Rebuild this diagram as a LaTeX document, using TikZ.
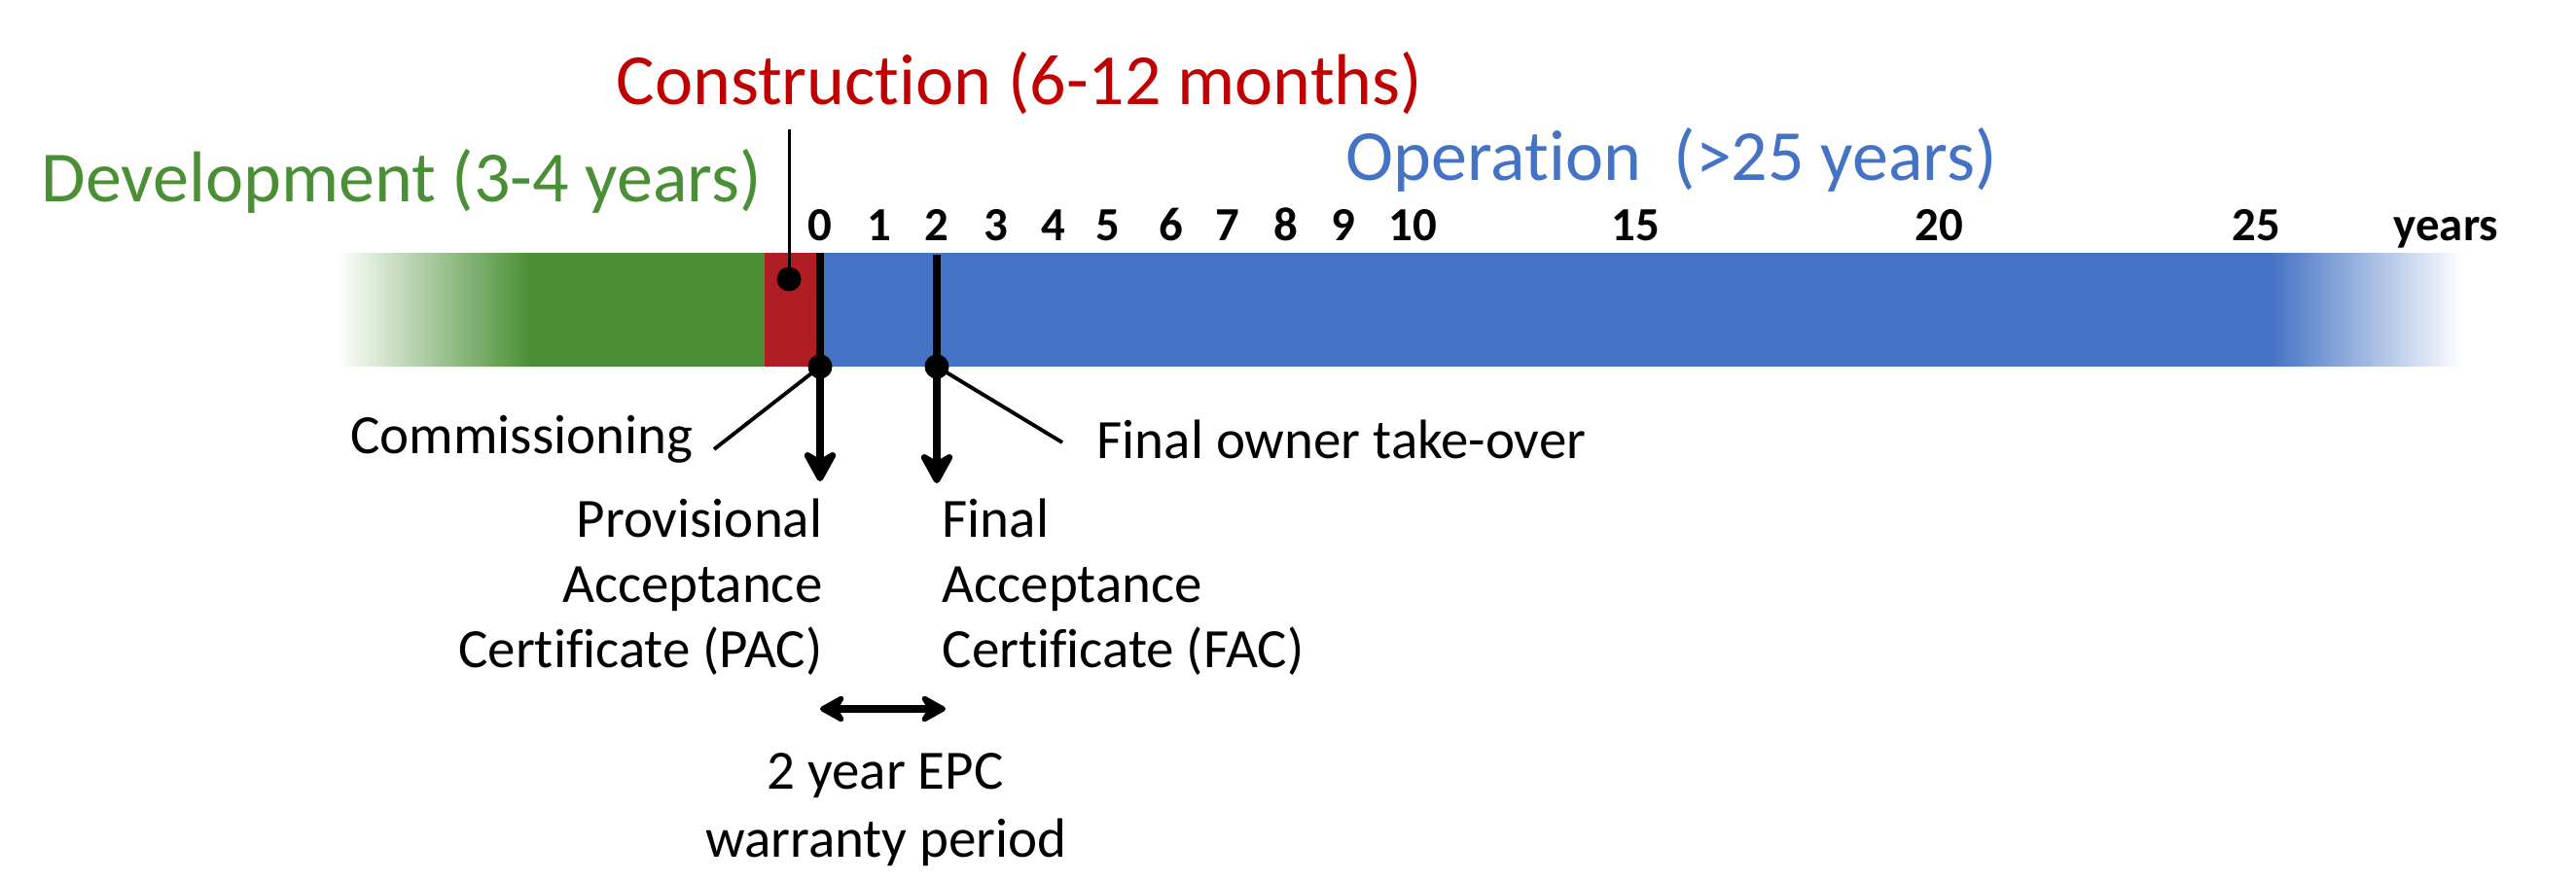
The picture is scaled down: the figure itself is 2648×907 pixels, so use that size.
\documentclass[tikz,border=0pt]{standalone}
\usepackage{fontspec}
\setmainfont[Ligatures=NoCommon]{Carlito}
\usetikzlibrary{arrows.meta}
\definecolor{devgreen}{HTML}{4A8F35}
\definecolor{conred}{HTML}{C00000}
\definecolor{barred}{HTML}{B01E23}
\definecolor{opblue}{HTML}{4472C4}
\tikzset{
  bigtxt/.style={inner sep=0pt, font=\fontsize{21.05pt}{25pt}\selectfont},
  smalltxt/.style={inner sep=0pt, font=\fontsize{16.2pt}{19pt}\selectfont},
  ticktxt/.style={inner sep=0pt, anchor=base, font=\fontsize{13.9pt}{16pt}\selectfont\bfseries},
  dot/.style={circle, fill=black, inner sep=0pt, minimum size=0.25cm},
  marker/.style={line width=2.3pt},
  leader/.style={line width=1.1pt},
  thinleader/.style={line width=0.85pt},
  downarrow/.style={line width=2.3pt, -{Stealth[length=11pt,width=12pt,inset=3.5pt,round]}},
  bothway/.style={line width=2pt, {Stealth[length=9pt,width=10pt,inset=3pt,round]}-{Stealth[length=9pt,width=10pt,inset=3pt,round]}},
}
\begin{document}
\begin{tikzpicture}[x=0.01cm, y=-0.01cm]
\useasboundingbox (0,0) rectangle (2648,907);
% bar with faded ends
\foreach \i in {0,...,49}{
  \pgfmathsetmacro\p{2*\i+1}
  \fill[devgreen!\p!white] ({346+4*\i},260) rectangle ({350.6+4*\i},377);
  \pgfmathsetmacro\q{99-2*\i}
  \fill[opblue!\q!white] ({2333+4*\i},260) rectangle ({2337.6+4*\i},377);
}
\fill[devgreen] (545,260) rectangle (786,377);
\fill[barred] (786,260) rectangle (843,377);
\fill[opblue] (843,260) rectangle (2334,377);
% titles
\node[bigtxt, anchor=base west, text=devgreen] (dev) at (42,208) {Development (3-4 years)};
\node[bigtxt, anchor=base west, text=conred] (con) at (633,108) {Construction (6-12 months)};
\node[bigtxt, anchor=base west, text=opblue] (op) at (1383,186) {Operation\ \ (>25 years)};
% ticks
\node[ticktxt] (t0) at (843,248) {0};
\node[ticktxt] (t1) at (904,248) {1};
\node[ticktxt] (t2) at (963,248) {2};
\node[ticktxt] (t3) at (1024,248) {3};
\node[ticktxt] (t4) at (1083,248) {4};
\node[ticktxt] (t5) at (1139,248) {5};
\node[ticktxt] (t6) at (1204,248) {6};
\node[ticktxt] (t7) at (1262,248) {7};
\node[ticktxt] (t8) at (1322,248) {8};
\node[ticktxt] (t9) at (1381,248) {9};
\node[ticktxt] (t10) at (1452,248) {10};
\node[ticktxt] (t15) at (1681,248) {15};
\node[ticktxt] (t20) at (1993,248) {20};
\node[ticktxt] (t25) at (2319,248) {25};
\node[ticktxt, anchor=base west] (tyears) at (2460,248) {years};
% construction marker
\coordinate (contop) at (811,133);
\node[dot] (condot) at (811,287) {};
\draw[thinleader] (contop) -- (condot.center);
% commissioning / PAC
\coordinate (zerotop) at (843,260);
\coordinate (twotop) at (963,262);
\node[dot] (comm) at (843,377) {};
\node[dot] (fac) at (963,377) {};
\draw[marker] (zerotop) -- (comm.center);
\draw[marker] (twotop) -- (fac.center);
\coordinate (pactip) at (843,495);
\coordinate (factip) at (963,497);
\draw[downarrow] (comm.center) -- (pactip);
\draw[downarrow] (fac.center) -- (factip);
\node[smalltxt, anchor=base east] (commtxt) at (713,467) {Commissioning};
\node[smalltxt, anchor=base west] (owner) at (1127,472) {Final owner take-over};
\coordinate (commend) at (734,462);
\coordinate (ownerend) at (1092,455);
\draw[leader] (comm.center) -- (commend);
\draw[leader] (fac.center) -- (ownerend);
% certificates
\node[smalltxt, anchor=base east] (pac1) at (846,553) {Provisional};
\node[smalltxt, anchor=base east] (pac2) at (846,620) {Acceptance};
\node[smalltxt, anchor=base east] (pac3) at (846,687) {Certificate (PAC)};
\node[smalltxt, anchor=base west] (fac1) at (968,553) {Final};
\node[smalltxt, anchor=base west] (fac2) at (968,620) {Acceptance};
\node[smalltxt, anchor=base west] (fac3) at (968,687) {Certificate (FAC)};
% warranty
\coordinate (wl) at (843,729);
\coordinate (wr) at (972,729);
\draw[bothway] (wl) -- (wr);
\node[smalltxt, anchor=base] (w1) at (910,812) {2 year EPC};
\node[smalltxt, anchor=base] (w2) at (911,882) {warranty period};
\end{tikzpicture}
\end{document}
